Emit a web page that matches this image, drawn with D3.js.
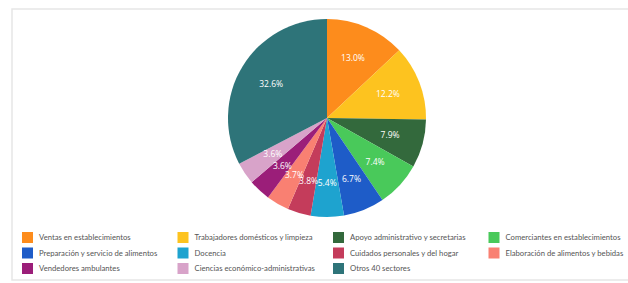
<!DOCTYPE html>
<html>
<head>
<meta charset="utf-8">
<script src="https://cdn.jsdelivr.net/npm/d3@7"></script>
<style>
  body { margin: 0; background: #fff; }
  svg text { font-family: "Open Sans", "Noto Sans", sans-serif; }
  svg .legend text { font-family: Lato, "Open Sans", sans-serif; }
</style>
</head>
<body>
<div id="chart"></div>
<script>
/* DATA */
const sectors = [
  "Ventas en establecimientos",
  "Trabajadores domésticos y limpieza",
  "Apoyo administrativo y secretarias",
  "Comerciantes en establecimientos",
  "Preparación y servicio de alimentos",
  "Docencia",
  "Cuidados personales y del hogar",
  "Elaboración de alimentos y bebidas",
  "Vendedores ambulantes",
  "Ciencias económico-administrativas",
  "Otros 40 sectores"
];
const shares = [13.0, 12.2, 7.9, 7.4, 6.7, 5.4, 3.8, 3.7, 3.6, 3.6, 32.6];
const colors = [
  "#fd8c1c", "#fdc31f", "#33693c", "#49c95a", "#1e5cc8", "#1ea3cf",
  "#c43c5b", "#f98072", "#9b1e79", "#d8a3c9", "#2e7479"
];

const width = 628, height = 283;
const cx = 327, cy = 118, radius = 99;

const svg = d3.select("#chart").append("svg")
  .attr("width", width)
  .attr("height", height);

// card frame
svg.append("rect")
  .attr("x", 12).attr("y", 9)
  .attr("width", width + 20).attr("height", 271)
  .attr("fill", "#fff")
  .attr("stroke", "#e6e6e6")
  .attr("stroke-width", 1.5);

const data = sectors.map((s, i) => ({ name: s, value: shares[i], color: colors[i] }));

const pie = d3.pie().sort(null).value(d => d.value);
const arc = d3.arc().innerRadius(0).outerRadius(radius);
const labelArc = d3.arc().innerRadius(radius * 0.66).outerRadius(radius * 0.66);

const g = svg.append("g").attr("transform", `translate(${cx},${cy})`);

g.selectAll("path")
  .data(pie(data))
  .join("path")
  .attr("d", arc)
  .attr("fill", d => d.data.color);

g.selectAll("text")
  .data(pie(data))
  .join("text")
  .attr("transform", d => `translate(${labelArc.centroid(d)})`)
  .attr("text-anchor", "middle")
  .attr("dy", "0.35em")
  .attr("fill", "#fff")
  .attr("font-size", 8.5)
  .text(d => d.data.value.toFixed(1) + "%");

// legend, 4 columns
const legend = svg.append("g").attr("class", "legend");
const item = legend.selectAll("g")
  .data(data)
  .join("g")
  .attr("transform", (d, i) => `translate(${22 + (i % 4) * 155.5},${232 + Math.floor(i / 4) * 15.5})`);

item.append("rect")
  .attr("width", 11).attr("height", 11)
  .attr("fill", d => d.color);

item.append("text")
  .attr("x", 17).attr("y", 5.5)
  .attr("dy", "0.35em")
  .attr("font-size", 7.7)
  .attr("fill", "#555")
  .text(d => d.name);
</script>
</body>
</html>
